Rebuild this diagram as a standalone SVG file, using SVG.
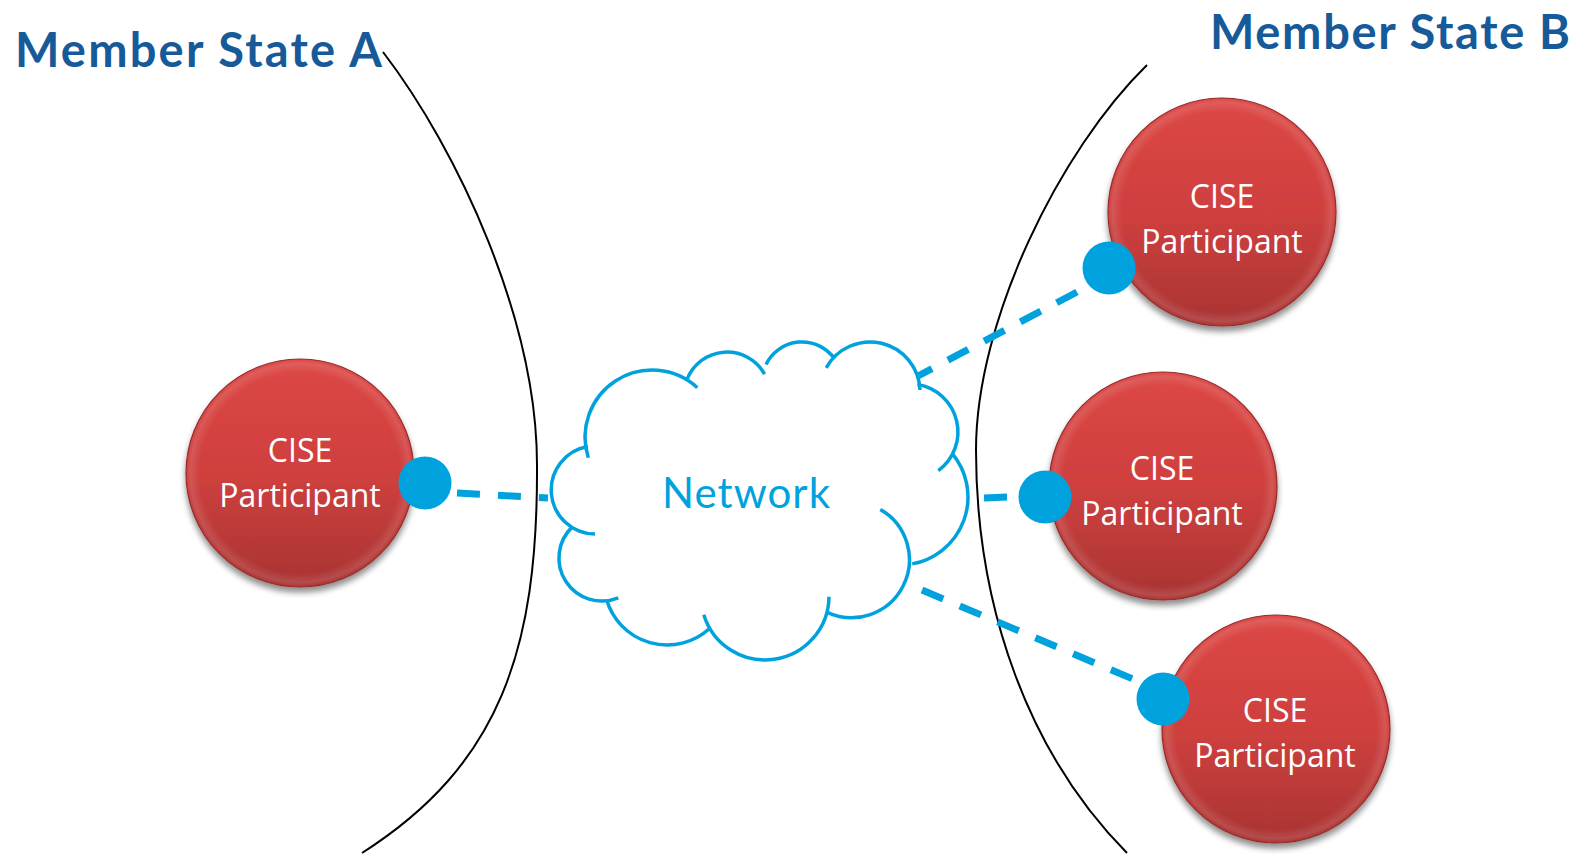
<svg xmlns="http://www.w3.org/2000/svg" width="1581" height="854" viewBox="0 0 1581 854">
<defs>
<linearGradient id="red" x1="0" y1="0" x2="0" y2="1">
<stop offset="0" stop-color="#dc4745"/>
<stop offset="0.5" stop-color="#cf403e"/>
<stop offset="1" stop-color="#a93433"/>
</linearGradient>
<radialGradient id="bevel" cx="0.5" cy="0.5" r="0.5">
<stop offset="0.88" stop-color="#ffffff" stop-opacity="0"/>
<stop offset="0.96" stop-color="#ffffff" stop-opacity="0.12"/>
<stop offset="1" stop-color="#ffffff" stop-opacity="0"/>
</radialGradient>
<filter id="shadow" x="-20%" y="-20%" width="140%" height="150%">
<feGaussianBlur in="SourceAlpha" stdDeviation="3"/>
<feOffset dx="0" dy="5" result="b"/>
<feComponentTransfer><feFuncA type="linear" slope="0.45"/></feComponentTransfer>
<feMerge><feMergeNode/><feMergeNode in="SourceGraphic"/></feMerge>
</filter>
</defs>
<style>
.title{font-family:Lato,"Liberation Sans",sans-serif;font-weight:700;font-size:47px;fill:#175a99}
.ptxt{font-family:"Open Sans","Noto Sans",sans-serif;font-size:32px;fill:#ffffff;text-anchor:middle}
.disc{fill:url(#red);stroke:#962b2b;stroke-width:1.2;filter:url(#shadow)}
.bev{fill:url(#bevel)}
.dot{fill:#00a2de}
.border{fill:none;stroke:#000000;stroke-width:2}
.cloud{fill:none;stroke:#00a2de;stroke-width:3.5}
.dash{stroke:#00a2de;stroke-width:7;stroke-dasharray:23 18;fill:none}
.net{font-family:Lato,"Liberation Sans",sans-serif;font-weight:400;font-size:42px;fill:#00a2de}
</style>
<rect width="1581" height="854" fill="#ffffff"/>

<g id="border-a"><path class="border" d="M383,52 C458,150 537,320 537,465 C538,650 500,765 362,853"/></g>
<g id="border-b"><path class="border" d="M1147,65 C1060,150 976,320 976,450 C976,610 1030,755 1127,853"/></g>

<g id="label-a"><text class="title" x="15" y="67" textLength="367">Member State A</text></g>
<g id="label-b"><text class="title" x="1210" y="49" textLength="360">Member State B</text></g>

<g id="connectors">
<line class="dash" x1="457" y1="493" x2="548" y2="498"/>
<line class="dash" x1="1077" y1="292" x2="918" y2="376"/>
<line class="dash" x1="1007" y1="497" x2="983" y2="498"/>
<line class="dash" x1="922" y1="590" x2="1140" y2="682"/>
</g>

<g id="network">
<path class="cloud" d="M588.3,457.7 A67,67 0 0,1 697.3,387.7"/>
<path class="cloud" d="M686.8,379.9 A43,43 0 0,1 764.6,374.2"/>
<path class="cloud" d="M766,364.5 A40,40 0 0,1 834.6,358.8"/>
<path class="cloud" d="M826.2,367.9 A50,50 0 0,1 920,390"/>
<path class="cloud" d="M917.5,384.6 A48,48 0 0,1 938.3,470.7"/>
<path class="cloud" d="M952.3,453.6 A68,68 0 0,1 912.2,563.9"/>
<path class="cloud" d="M880.3,509.4 A58,58 0 0,1 827.2,612.4"/>
<path class="cloud" d="M829,596.7 A64,64 0 0,1 703.8,614.7"/>
<path class="cloud" d="M709,629 A63,63 0 0,1 606.7,600.1"/>
<path class="cloud" d="M618.3,597.8 A43,43 0 0,1 572.6,526.6"/>
<path class="cloud" d="M595,534 A44,44 0 0,1 588,446.6"/>
<text class="net" x="662" y="508" textLength="168">Network</text>
</g>

<g id="participant-a">
<circle class="disc" cx="300" cy="473" r="114"/>
<circle class="bev" cx="300" cy="473" r="114"/>
<text class="ptxt" x="300" y="462">CISE</text>
<text class="ptxt" x="300" y="507">Participant</text>
<circle class="dot" cx="425" cy="483" r="26.5"/>
</g>

<g id="participant-b1">
<circle class="disc" cx="1222" cy="212" r="114"/>
<circle class="bev" cx="1222" cy="212" r="114"/>
<text class="ptxt" x="1222" y="208">CISE</text>
<text class="ptxt" x="1222" y="253">Participant</text>
<circle class="dot" cx="1109" cy="268" r="26.5"/>
</g>

<g id="participant-b2">
<circle class="disc" cx="1163" cy="486" r="114"/>
<circle class="bev" cx="1163" cy="486" r="114"/>
<text class="ptxt" x="1162" y="480">CISE</text>
<text class="ptxt" x="1162" y="525">Participant</text>
<circle class="dot" cx="1045" cy="497" r="26.5"/>
</g>

<g id="participant-b3">
<circle class="disc" cx="1276" cy="729" r="114"/>
<circle class="bev" cx="1276" cy="729" r="114"/>
<text class="ptxt" x="1275" y="722">CISE</text>
<text class="ptxt" x="1275" y="767">Participant</text>
<circle class="dot" cx="1163" cy="699" r="26.5"/>
</g>
</svg>
